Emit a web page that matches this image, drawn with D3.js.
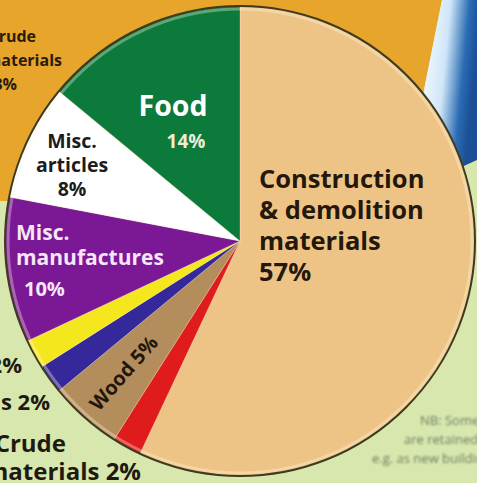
<!DOCTYPE html>
<html>
<head>
<meta charset="utf-8">
<script src="https://cdn.jsdelivr.net/npm/d3@7"></script>
<style>
  html, body { margin: 0; padding: 0; background: #d7e7ae; }
  svg { display: block; }
  text { font-family: "Open Sans", "Noto Sans", sans-serif; font-weight: 700; }
  text.note { font-weight: 400; }
</style>
</head>
<body>
<svg id="chart" width="477" height="483"></svg>
<script>
// Waste composition by material type (per cent), clockwise from 12 o'clock
const categories = [
  "Construction & demolition materials",
  "Crude materials",
  "Wood",
  "Metals",
  "Chemicals",
  "Misc. manufactures",
  "Misc. articles",
  "Food"
];
const values = [57, 2, 5, 2, 2, 10, 8, 14];
const sliceColors = ["#eec486", "#df1b1b", "#b48d5d", "#34289a", "#f4e71e", "#7a1896", "#ffffff", "#0b7a3b"];

// Label text pieces
const insideLines = {
  "Construction & demolition materials": ["Construction", "& demolition", "materials"],
  "Misc. manufactures": ["Misc.", "manufactures"],
  "Misc. articles": ["Misc.", "articles"],
  "Food": ["Food"]
};
const outsideLabels = [
  { cat: "Chemicals", lines: ["Chemicals 2%"] },
  { cat: "Metals", lines: ["Metals 2%"] },
  { cat: "Crude materials", lines: ["Crude", "materials 2%"] }
];
// Fragment of the neighbouring panel's label (upper left)
const neighbourLabel = ["Crude", "materials", "3%"];
const footnote = ["NB: Some materials", "are retained on site,", "e.g. as new building stock"];

const W = 477, H = 483;
const cx = 240, cy = 241, R = 235;

const svg = d3.select("#chart");
const defs = svg.append("defs");

// ---- background panels ----
svg.append("rect").attr("x", 0).attr("y", 0).attr("width", W).attr("height", H).attr("fill", "#d7e7ae");
svg.append("path").attr("d", "M0,0 L442,0 L405,185 L405,201 L0,201 Z").attr("fill", "#e7a52c");

const grad = defs.append("linearGradient").attr("id", "swoosh")
  .attr("x1", "0%").attr("y1", "0%").attr("x2", "100%").attr("y2", "25%");
[["0%", "#123c8c"], ["15%", "#4d8fd6"], ["38%", "#eaf5fd"], ["60%", "#cfe6f8"], ["85%", "#2a6cb4"], ["100%", "#1b4f96"]]
  .forEach(([o, c]) => grad.append("stop").attr("offset", o).attr("stop-color", c));
svg.append("path")
  .attr("d", "M442,0 L477,0 L477,160 L455,170 L405,185 Z")
  .attr("fill", "url(#swoosh)");

// neighbouring label fragment, clipped by the left edge
const nbEnds = [36, 62, 17];
const nb = svg.append("text").attr("fill", "#2a1c0c").attr("font-size", 16).attr("text-anchor", "end");
neighbourLabel.forEach((t, i) => {
  nb.append("tspan").attr("x", nbEnds[i]).attr("y", 42 + i * 24).text(t);
});

// ---- pie ----
const pie = d3.pie().sort(null).value(d => d.value).startAngle(0).endAngle(2 * Math.PI);
const arc = d3.arc().innerRadius(0).outerRadius(R);
const data = categories.map((c, i) => ({ cat: c, value: values[i], color: sliceColors[i] }));
const arcs = pie(data);

const g = svg.append("g").attr("transform", `translate(${cx},${cy})`);
g.selectAll("path.slice").data(arcs).join("path")
  .attr("class", "slice")
  .attr("d", arc)
  .attr("fill", d => d.data.color)
  .attr("stroke", "rgba(255,240,220,0.35)")
  .attr("stroke-width", 0.8);

// pale inner rim and dark outline
g.append("circle").attr("r", R - 3).attr("fill", "none")
  .attr("stroke", "rgba(255,245,225,0.35)").attr("stroke-width", 3);
g.append("circle").attr("r", R).attr("fill", "none")
  .attr("stroke", "#3e3a1e").attr("stroke-width", 2);

const byCat = Object.fromEntries(arcs.map(a => [a.data.cat, a]));
const pct = c => `${byCat[c].data.value}%`;

// ---- inside labels ----
function block(lines, x, y0, dy, size, fill, anchor) {
  const t = svg.append("text").attr("fill", fill).attr("font-size", size).attr("text-anchor", anchor);
  lines.forEach((l, i) => t.append("tspan").attr("x", x).attr("y", y0 + i * dy).text(l));
  return t;
}

// Construction & demolition materials
block([...insideLines[categories[0]], pct(categories[0])], 259, 188, 31, 25.5, "#24170b", "start");

// Food
block(insideLines["Food"], 173, 116, 0, 28.5, "#ffffff", "middle");
block([pct("Food")], 186, 148, 0, 19, "#f1ecd8", "middle");

// Misc. articles
block([...insideLines["Misc. articles"], pct("Misc. articles")], 72, 148, 24, 19.5, "#1c1c1c", "middle");

// Misc. manufactures
block(insideLines["Misc. manufactures"], 16, 240, 25, 21, "#f7e6f6", "start");
block([pct("Misc. manufactures")], 24, 296, 0, 20, "#f7e6f6", "start");

// Wood: written along the slice's radius
(() => {
  const a = byCat["Wood"];
  const mid = (a.startAngle + a.endAngle) / 2;
  const r = 176;
  const x = cx + r * Math.sin(mid), y = cy - r * Math.cos(mid);
  const rot = Math.atan2(Math.cos(mid), -Math.sin(mid)) * 180 / Math.PI;
  svg.append("text")
    .attr("transform", `translate(${x},${y}) rotate(${rot})`)
    .attr("text-anchor", "middle").attr("dy", "0.35em")
    .attr("font-size", 20).attr("fill", "#22170c")
    .text(`Wood ${pct("Wood")}`);
})();

// ---- outside labels (run off the left edge) ----
const outsidePos = { "Chemicals": [[22, 373, 22]], "Metals": [[50, 410, 22]], "Crude materials": [[66, 452, 24], [141, 480, 24]] };
outsideLabels.forEach(o => {
  o.lines.forEach((l, i) => {
    const [x, y, s] = outsidePos[o.cat][i];
    svg.append("text").attr("x", x).attr("y", y).attr("text-anchor", "end")
      .attr("font-size", s).attr("fill", "#1e1a10").text(l);
  });
});

// ---- footnote, soft and pale ----
defs.append("filter").attr("id", "soft").append("feGaussianBlur").attr("stdDeviation", 1);
const fn = svg.append("text").attr("class", "note").attr("fill", "#6f7e60").attr("font-size", 13)
  .attr("text-anchor", "start").attr("filter", "url(#soft)");
footnote.forEach((l, i) => fn.append("tspan").attr("x", [420, 404, 372][i]).attr("y", 425 + i * 19).text(l));
</script>
</body>
</html>
